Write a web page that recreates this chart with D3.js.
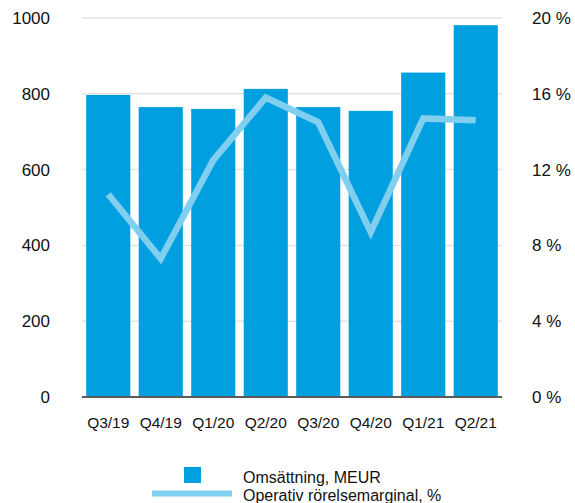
<!DOCTYPE html>
<html>
<head>
<meta charset="utf-8">
<script src="https://cdn.jsdelivr.net/npm/d3@7"></script>
<style>
  body { margin: 0; background: #fff; }
  text { font-family: Arial, "Liberation Sans", sans-serif; fill: #111; }
</style>
</head>
<body>
<div id="chart"></div>
<script>
const quarters = ["Q3/19", "Q4/19", "Q1/20", "Q2/20", "Q3/20", "Q4/20", "Q1/21", "Q2/21"];
const revenue = [797, 765, 760, 813, 765, 755, 856, 981];
const margin = [10.7, 7.3, 12.5, 15.8, 14.5, 8.7, 14.7, 14.6];
const leftTicks = [0, 200, 400, 600, 800, 1000];
const rightTicks = [0, 4, 8, 12, 16, 20];

const width = 575, height = 503;
const plot = {left: 82, right: 502, top: 18, bottom: 397};

const svg = d3.select('#chart').append("svg")
  .attr("width", width)
  .attr("height", height);

const x = d3.scaleBand()
  .domain(quarters)
  .range([plot.left, plot.right])
  .paddingInner(0.16)
  .paddingOuter(0.08);

const yLeft = d3.scaleLinear().domain([0, 1000]).range([plot.bottom, plot.top]);
const yRight = d3.scaleLinear().domain([0, 20]).range([plot.bottom, plot.top]);

// gridlines
svg.append("g")
  .selectAll("line")
  .data(leftTicks.slice(1))
  .enter().append("line")
  .attr("x1", plot.left)
  .attr("x2", plot.right)
  .attr("y1", d => yLeft(d))
  .attr("y2", d => yLeft(d))
  .attr("stroke", "#e3e3e3")
  .attr("stroke-width", 1.5);

// bars
svg.append("g")
  .selectAll("rect")
  .data(revenue)
  .enter().append("rect")
  .attr("x", (d, i) => x(quarters[i]))
  .attr("y", d => yLeft(d))
  .attr("width", x.bandwidth())
  .attr("height", d => plot.bottom - yLeft(d))
  .attr("fill", "#009fdf");

// baseline
svg.append("line")
  .attr("x1", plot.left).attr("x2", plot.right)
  .attr("y1", plot.bottom).attr("y2", plot.bottom)
  .attr("stroke", "#595959")
  .attr("stroke-width", 2);

// margin line
const line = d3.line()
  .x((d, i) => x(quarters[i]) + x.bandwidth() / 2)
  .y(d => yRight(d));

svg.append("path")
  .datum(margin)
  .attr("d", line)
  .attr("fill", "none")
  .attr("stroke", "#80cfee")
  .attr("stroke-width", 6.5)
  .attr("stroke-linejoin", "miter");

// left axis labels
svg.append("g")
  .selectAll("text")
  .data(leftTicks)
  .enter().append("text")
  .attr("x", 50)
  .attr("y", d => yLeft(d) + 6)
  .attr("text-anchor", "end")
  .style("font-size", "17px")
  .text(d => d);

// right axis labels
svg.append("g")
  .selectAll("text")
  .data(rightTicks)
  .enter().append("text")
  .attr("x", 532)
  .attr("y", d => yRight(d) + 6)
  .style("font-size", "17px")
  .text(d => d + " %");

// x labels
svg.append("g")
  .selectAll("text")
  .data(quarters)
  .enter().append("text")
  .attr("x", d => x(d) + x.bandwidth() / 2)
  .attr("y", 428)
  .attr("text-anchor", "middle")
  .style("font-size", "15.5px")
  .text(d => d);

// legend
const legend = svg.append("g");
legend.append("rect")
  .attr("x", 184).attr("y", 467)
  .attr("width", 17).attr("height", 16)
  .attr("fill", "#009fdf");
legend.append("line")
  .attr("x1", 152).attr("x2", 232)
  .attr("y1", 493.5).attr("y2", 493.5)
  .attr("stroke", "#80cfee")
  .attr("stroke-width", 6);
legend.append("text")
  .attr("x", 243).attr("y", 482.5)
  .style("font-size", "16px")
  .text("Omsättning, MEUR");
legend.append("text")
  .attr("x", 243).attr("y", 501)
  .style("font-size", "16px")
  .text("Operativ rörelsemarginal, %");
</script>
</body>
</html>
